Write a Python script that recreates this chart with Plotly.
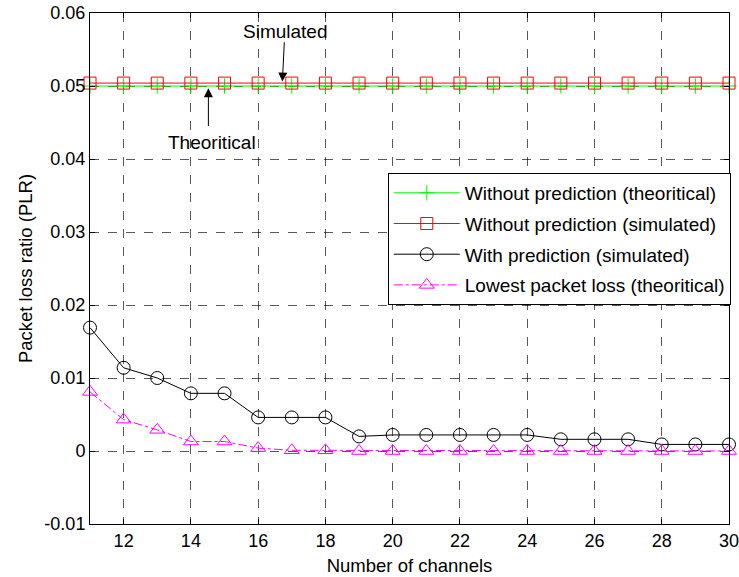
import plotly.graph_objects as go

channels = list(range(11, 31))
theo_no_pred = [0.05] * 20
sim_no_pred = [0.0504] * 20
sim_pred = [0.0169, 0.0114, 0.0100, 0.0079, 0.0079, 0.0046, 0.0046, 0.0046,
            0.0020, 0.0022, 0.0022, 0.0022, 0.0022, 0.0022, 0.0016, 0.0016,
            0.0016, 0.0009, 0.0009, 0.0009]
lowest_theo = [0.0081, 0.0043, 0.0029, 0.0013, 0.0013, 0.0004, 0.0001, 0.0001,
               0.0, 0.0, 0.0, 0.0, 0.0, 0.0, 0.0, 0.0, 0.0, 0.0, 0.0, 0.0]

x_ticks = [12, 14, 16, 18, 20, 22, 24, 26, 28, 30]
y_ticks = [-0.01, 0, 0.01, 0.02, 0.03, 0.04, 0.05, 0.06]
y_tick_labels = ["-0.01", "0", "0.01", "0.02", "0.03", "0.04", "0.05", "0.06"]

FONT = "Liberation Sans, Arial, sans-serif"

fig = go.Figure()
fig.add_trace(go.Scatter(x=channels, y=theo_no_pred, mode="lines+markers",
                         name="Without prediction (theoritical)", legendgroup="a",
                         line=dict(color="#00ff00", width=1),
                         marker=dict(symbol="cross-thin-open", size=11, line=dict(color="#00ff00", width=1)),
                         cliponaxis=False))
fig.add_trace(go.Scatter(x=channels, y=sim_no_pred, mode="lines+markers",
                         name="Without prediction (simulated)", legendgroup="b",
                         line=dict(color="#ff0000", width=1),
                         marker=dict(symbol="square-open", size=12, color="#ff0000", line=dict(width=1)),
                         cliponaxis=False))
fig.add_trace(go.Scatter(x=channels, y=sim_pred, mode="lines+markers",
                         name="With prediction (simulated)", legendgroup="c",
                         line=dict(color="#000000", width=1),
                         marker=dict(symbol="circle-open", size=13, color="#000000", line=dict(width=1)),
                         cliponaxis=False))
fig.add_trace(go.Scatter(x=channels, y=lowest_theo, mode="lines+markers",
                         name="Lowest packet loss (theoritical)", legendgroup="d",
                         line=dict(color="#ff00ff", width=1, dash="dashdot"),
                         marker=dict(symbol="triangle-up-open", size=13, color="#ff00ff", line=dict(width=1)),
                         cliponaxis=False))

fig.add_annotation(x=16.72, y=0.0506, ax=16.78, ay=0.0562, xref="x", yref="y", axref="x", ayref="y",
                   text="", showarrow=True, arrowhead=2, arrowsize=1.8, arrowwidth=1, arrowcolor="black")
fig.add_annotation(x=16.8, y=0.0574, text="Simulated", showarrow=False, font=dict(size=19, color="black", family=FONT))
fig.add_annotation(x=14.52, y=0.0497, ax=14.52, ay=0.0443, xref="x", yref="y", axref="x", ayref="y",
                   text="", showarrow=True, arrowhead=2, arrowsize=1.8, arrowwidth=1, arrowcolor="black")
fig.add_annotation(x=14.63, y=0.0423, text="Theoritical", showarrow=False, font=dict(size=19, color="black", family=FONT))

axis_common = dict(showline=True, linecolor="black", linewidth=1, mirror="ticks",
                   ticks="inside", ticklen=5, tickcolor="black", automargin=False,
                   ticklabeloverflow="allow",
                   showgrid=True, gridcolor="rgba(0,0,0,0.65)", griddash="dash", gridwidth=1,
                   zeroline=False, tickfont=dict(size=18, color="black", family=FONT))

fig.update_xaxes(range=[11, 30], tickvals=x_ticks,
                 title=dict(text="Number of channels", font=dict(size=18.5, color="black", family=FONT), standoff=9),
                 **axis_common)
fig.update_yaxes(range=[-0.01, 0.06], tickvals=y_ticks, ticktext=y_tick_labels,
                 title=dict(text="Packet loss ratio (PLR)", font=dict(size=18.5, color="black", family=FONT), standoff=6),
                 **axis_common)

fig.update_layout(
    width=739, height=577,
    margin=dict(l=90, r=8, t=13, b=53),
    paper_bgcolor="white", plot_bgcolor="white",
    font=dict(family=FONT, size=18, color="black"),
    legend=dict(x=0.466, y=0.687, xanchor="left", yanchor="top",
                bgcolor="white", bordercolor="black", borderwidth=1,
                font=dict(size=19, color="black", family=FONT),
                itemwidth=66,
                traceorder="grouped", tracegroupgap=3),
    showlegend=True,
)

fig.write_html("out.html", config={"displayModeBar": False},
               post_script="document.body.style.margin='0';")
